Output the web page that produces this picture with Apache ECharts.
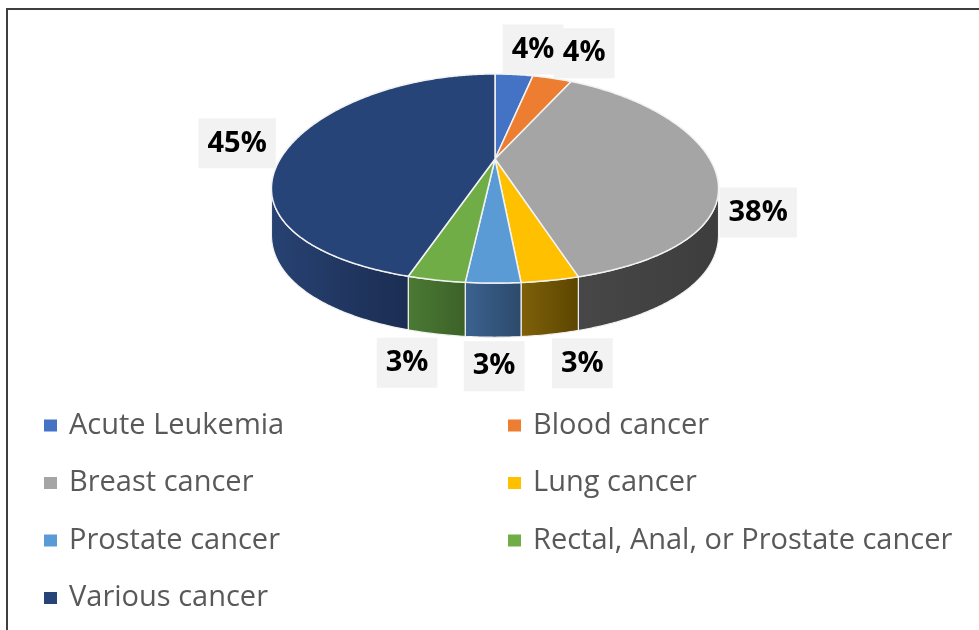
<!DOCTYPE html>
<html>
<head>
<meta charset="utf-8">
<script src="https://cdn.jsdelivr.net/npm/echarts@6/dist/echarts.min.js"></script>
<style>
  html, body { margin: 0; padding: 0; background: #fff; }
  #chart { position: absolute; left: 0; top: 0; width: 979px; height: 630px; }
  .frame {
    position: absolute; left: 6px; top: 8px; right: 0; bottom: 0;
    border-top: 2px solid #3f3f3f; border-left: 2px solid #3f3f3f;
    pointer-events: none;
  }
</style>
</head>
<body>
<div id="chart"></div>
<div class="frame"></div>
<script>
// data (percent shares; labels round them)
const categories = [
  'Acute Leukemia',
  'Blood cancer',
  'Breast cancer',
  'Lung cancer',
  'Prostate cancer',
  'Rectal, Anal, or Prostate cancer',
  'Various cancer'
]
const values = [3.6, 3.7, 38.1, 3.2, 3.0, 3.2, 45.2]

// palette (top face, side wall light -> dark)
const topColors = ['#4472C4', '#ED7D31', '#A5A5A5', '#FFC000', '#5B9BD5', '#70AD47', '#264478']
const sideColors = [
  ['#34589a', '#2b4880'],
  ['#b95f22', '#9a4e1b'],
  ['#474747', '#3d3d3d'],
  ['#7f610a', '#5c4500'],
  ['#3b6290', '#2c4a6b'],
  ['#4b7a34', '#3c6128'],
  ['#274272', '#1b2d52']
]
// label nudges from the slice edge
const labelNudge = [[19, -25], [32, -25], [44, 41], [32, 30], [1, 29], [-29, 30], [-54, -1]]

// 3d projection of the pie disc
const CX = 495, CY = 159, A = 214.8, B = 100.9, Q = 0.187, QH = 0.277, T = 44
const VIS0 = Math.acos(-QH)
const VIS1 = 2 * Math.PI - VIS0

const proj = (theta, r, drop) => {
  const c = Math.cos(theta)
  const sv = 1 / (1 + Q * r * c)
  const sh = 1 / (1 + QH * r * c)
  return [CX + A * r * Math.sin(theta) * sh, CY - B * r * c * sv + drop * sv]
}

const arc = (a1, a2, drop) => {
  const pts = []
  const n = Math.max(2, Math.ceil(Math.abs(a2 - a1) / 0.01))
  for (let k = 0; k <= n; k++) {
    pts.push(proj(a1 + (a2 - a1) * k / n, 1, drop))
  }
  return pts
}

const total = values.reduce((a, b) => a + b, 0)
const starts = []
values.reduce((acc, v, i) => { starts[i] = acc; return acc + v }, 0)

const renderSlice = (params, api) => {
  const i = params.seriesIndex
  const v = api.value(0)
  const a1 = starts[i] / total * Math.PI * 2
  const a2 = a1 + v / total * Math.PI * 2
  const children = []

  // side wall
  const lo = Math.max(a1, VIS0)
  const hi = Math.min(a2, VIS1)
  if (hi > lo) {
    const pts = arc(lo, hi, 0).concat(arc(hi, lo, T))
    children.push({
      type: 'polygon',
      shape: { points: pts },
      style: {
        fill: new echarts.graphic.LinearGradient(0, 0, 1, 0, [
          { offset: 0, color: sideColors[i][0] },
          { offset: 1, color: sideColors[i][1] }
        ]),
        stroke: '#f2f2f2',
        lineWidth: 1.2
      }
    })
  }

  // top face
  children.push({
    type: 'polygon',
    shape: { points: [[CX, CY]].concat(arc(a1, a2, 0)) },
    style: { fill: topColors[i], stroke: '#f2f2f2', lineWidth: 1.5, lineJoin: 'round' }
  })

  // label
  const mid = (a1 + a2) / 2
  const p = proj(mid, 1, T * Math.max(0, -Math.cos(mid)))
  children.push({
    type: 'text',
    x: p[0] + labelNudge[i][0],
    y: p[1] + labelNudge[i][1],
    style: {
      text: Math.round(v / total * 100) + '%',
      font: 'bold 29px "Open Sans"',
      fill: '#000',
      align: 'center',
      verticalAlign: 'middle',
      textAlign: 'center',
      textVerticalAlign: 'middle',
      backgroundColor: '#f2f2f2',
      padding: [11, 9],
      lineHeight: 28
    }
  })

  return { type: 'group', children }
}

const chart = echarts.init(document.getElementById('chart'))

const legendBase = {
  orient: 'vertical',
  top: 406,
  icon: 'rect',
  itemWidth: 13,
  itemHeight: 12,
  itemGap: 28.5,
  selectedMode: false,
  textStyle: {
    fontFamily: 'Open Sans',
    fontSize: 29,
    color: '#595959',
    padding: [0, 0, 0, 7]
  }
}

chart.setOption({
  animation: false,
  legend: [
    Object.assign({}, legendBase, { left: 39, data: [categories[0], categories[2], categories[4], categories[6]] }),
    Object.assign({}, legendBase, { left: 503, data: [categories[1], categories[3], categories[5]] })
  ],
  series: categories.map((name, i) => ({
    type: 'custom',
    name,
    coordinateSystem: 'none',
    silent: true,
    itemStyle: { color: topColors[i] },
    data: [[values[i]]],
    renderItem: renderSlice
  }))
})

window.addEventListener('resize', () => chart.resize())
</script>
</body>
</html>
